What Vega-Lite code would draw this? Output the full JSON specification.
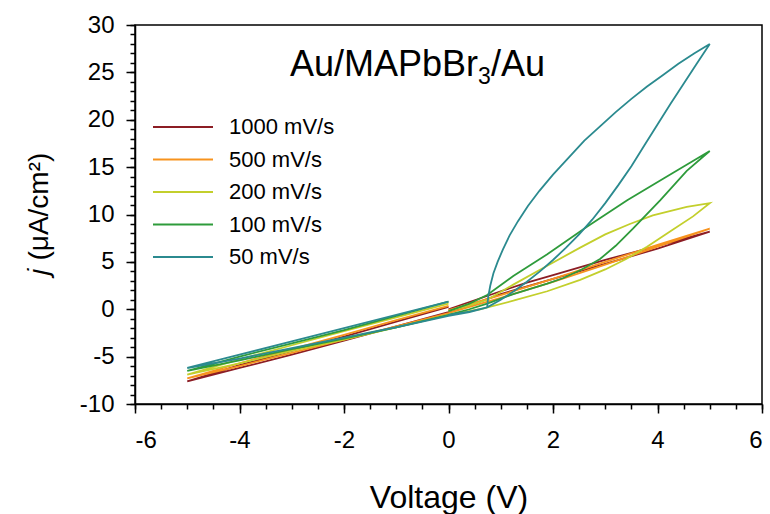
{
  "$schema": "https://vega.github.io/schema/vega-lite/v6.json",
  "width": 627,
  "height": 379,
  "autosize": {"type": "none"},
  "padding": {"left": 135, "top": 25, "right": 8, "bottom": 110},
  "background": "white",
  "config": {
    "font": "Liberation Sans",
    "view": {"stroke": "black", "strokeWidth": 1.5},
    "axis": {
      "grid": false,
      "domainColor": "black",
      "domainWidth": 1.5,
      "tickColor": "black",
      "tickWidth": 1.5,
      "labelColor": "black",
      "labelFont": "Liberation Sans",
      "titleFont": "Liberation Sans",
      "titleColor": "black",
      "titleFontWeight": "normal"
    }
  },
  "datasets": {
    "iv": [
      {"rate": "1000 mV/s", "step": 1, "voltage": 0, "current": 0.0},
      {"rate": "1000 mV/s", "step": 2, "voltage": 0.5, "current": 0.95},
      {"rate": "1000 mV/s", "step": 3, "voltage": 1, "current": 1.9},
      {"rate": "1000 mV/s", "step": 4, "voltage": 1.5, "current": 2.8},
      {"rate": "1000 mV/s", "step": 5, "voltage": 2, "current": 3.6},
      {"rate": "1000 mV/s", "step": 6, "voltage": 3, "current": 5.2},
      {"rate": "1000 mV/s", "step": 7, "voltage": 4, "current": 6.7},
      {"rate": "1000 mV/s", "step": 8, "voltage": 5, "current": 8.2},
      {"rate": "1000 mV/s", "step": 9, "voltage": 4, "current": 6.4},
      {"rate": "1000 mV/s", "step": 10, "voltage": 3, "current": 4.8},
      {"rate": "1000 mV/s", "step": 11, "voltage": 2, "current": 3.2},
      {"rate": "1000 mV/s", "step": 12, "voltage": 1, "current": 1.6},
      {"rate": "1000 mV/s", "step": 13, "voltage": 0.5, "current": 0.6},
      {"rate": "1000 mV/s", "step": 14, "voltage": 0, "current": -0.3},
      {"rate": "1000 mV/s", "step": 15, "voltage": -1, "current": -1.8},
      {"rate": "1000 mV/s", "step": 16, "voltage": -2, "current": -3.3},
      {"rate": "1000 mV/s", "step": 17, "voltage": -3, "current": -4.8},
      {"rate": "1000 mV/s", "step": 18, "voltage": -4, "current": -6.2},
      {"rate": "1000 mV/s", "step": 19, "voltage": -5, "current": -7.6},
      {"rate": "1000 mV/s", "step": 20, "voltage": -4, "current": -5.9},
      {"rate": "1000 mV/s", "step": 21, "voltage": -3, "current": -4.4},
      {"rate": "1000 mV/s", "step": 22, "voltage": -2, "current": -2.9},
      {"rate": "1000 mV/s", "step": 23, "voltage": -1, "current": -1.3},
      {"rate": "1000 mV/s", "step": 24, "voltage": 0, "current": 0.25},

      {"rate": "500 mV/s", "step": 1, "voltage": 0, "current": -0.1},
      {"rate": "500 mV/s", "step": 2, "voltage": 0.5, "current": 0.7},
      {"rate": "500 mV/s", "step": 3, "voltage": 1, "current": 1.5},
      {"rate": "500 mV/s", "step": 4, "voltage": 2, "current": 3.2},
      {"rate": "500 mV/s", "step": 5, "voltage": 3, "current": 5.0},
      {"rate": "500 mV/s", "step": 6, "voltage": 4, "current": 6.8},
      {"rate": "500 mV/s", "step": 7, "voltage": 5, "current": 8.5},
      {"rate": "500 mV/s", "step": 8, "voltage": 4, "current": 6.6},
      {"rate": "500 mV/s", "step": 9, "voltage": 3, "current": 4.7},
      {"rate": "500 mV/s", "step": 10, "voltage": 2, "current": 2.9},
      {"rate": "500 mV/s", "step": 11, "voltage": 1, "current": 1.2},
      {"rate": "500 mV/s", "step": 12, "voltage": 0.5, "current": 0.4},
      {"rate": "500 mV/s", "step": 13, "voltage": 0, "current": -0.4},
      {"rate": "500 mV/s", "step": 14, "voltage": -1, "current": -1.8},
      {"rate": "500 mV/s", "step": 15, "voltage": -2, "current": -3.2},
      {"rate": "500 mV/s", "step": 16, "voltage": -3, "current": -4.6},
      {"rate": "500 mV/s", "step": 17, "voltage": -4, "current": -6.0},
      {"rate": "500 mV/s", "step": 18, "voltage": -5, "current": -7.3},
      {"rate": "500 mV/s", "step": 19, "voltage": -4, "current": -5.7},
      {"rate": "500 mV/s", "step": 20, "voltage": -3, "current": -4.2},
      {"rate": "500 mV/s", "step": 21, "voltage": -2, "current": -2.7},
      {"rate": "500 mV/s", "step": 22, "voltage": -1, "current": -1.15},
      {"rate": "500 mV/s", "step": 23, "voltage": 0, "current": 0.35},

      {"rate": "200 mV/s", "step": 1, "voltage": 0, "current": -0.2},
      {"rate": "200 mV/s", "step": 2, "voltage": 0.4, "current": 0.4},
      {"rate": "200 mV/s", "step": 3, "voltage": 0.74, "current": 1.0},
      {"rate": "200 mV/s", "step": 4, "voltage": 1.24, "current": 2.6},
      {"rate": "200 mV/s", "step": 5, "voltage": 1.89, "current": 4.6},
      {"rate": "200 mV/s", "step": 6, "voltage": 2.52, "current": 6.5},
      {"rate": "200 mV/s", "step": 7, "voltage": 3.0, "current": 7.9},
      {"rate": "200 mV/s", "step": 8, "voltage": 3.47, "current": 9.0},
      {"rate": "200 mV/s", "step": 9, "voltage": 3.91, "current": 9.9},
      {"rate": "200 mV/s", "step": 10, "voltage": 4.56, "current": 10.8},
      {"rate": "200 mV/s", "step": 11, "voltage": 5, "current": 11.2},
      {"rate": "200 mV/s", "step": 12, "voltage": 4.68, "current": 9.8},
      {"rate": "200 mV/s", "step": 13, "voltage": 4.24, "current": 8.2},
      {"rate": "200 mV/s", "step": 14, "voltage": 3.8, "current": 6.6},
      {"rate": "200 mV/s", "step": 15, "voltage": 3.4, "current": 5.3},
      {"rate": "200 mV/s", "step": 16, "voltage": 3.0, "current": 4.2},
      {"rate": "200 mV/s", "step": 17, "voltage": 2.52, "current": 3.1},
      {"rate": "200 mV/s", "step": 18, "voltage": 1.89, "current": 1.9},
      {"rate": "200 mV/s", "step": 19, "voltage": 1.24, "current": 0.9},
      {"rate": "200 mV/s", "step": 20, "voltage": 0.6, "current": 0.0},
      {"rate": "200 mV/s", "step": 21, "voltage": 0, "current": -0.6},
      {"rate": "200 mV/s", "step": 22, "voltage": -1, "current": -1.9},
      {"rate": "200 mV/s", "step": 23, "voltage": -2, "current": -3.2},
      {"rate": "200 mV/s", "step": 24, "voltage": -3, "current": -4.4},
      {"rate": "200 mV/s", "step": 25, "voltage": -4, "current": -5.7},
      {"rate": "200 mV/s", "step": 26, "voltage": -5, "current": -6.9},
      {"rate": "200 mV/s", "step": 27, "voltage": -4, "current": -5.3},
      {"rate": "200 mV/s", "step": 28, "voltage": -3, "current": -3.8},
      {"rate": "200 mV/s", "step": 29, "voltage": -2, "current": -2.3},
      {"rate": "200 mV/s", "step": 30, "voltage": -1, "current": -0.85},
      {"rate": "200 mV/s", "step": 31, "voltage": 0, "current": 0.6},

      {"rate": "100 mV/s", "step": 1, "voltage": 0, "current": -0.2},
      {"rate": "100 mV/s", "step": 2, "voltage": 0.4, "current": 0.6},
      {"rate": "100 mV/s", "step": 3, "voltage": 0.74, "current": 1.5},
      {"rate": "100 mV/s", "step": 4, "voltage": 1.24, "current": 3.5},
      {"rate": "100 mV/s", "step": 5, "voltage": 1.89, "current": 5.8},
      {"rate": "100 mV/s", "step": 6, "voltage": 2.65, "current": 8.7},
      {"rate": "100 mV/s", "step": 7, "voltage": 3.42, "current": 11.5},
      {"rate": "100 mV/s", "step": 8, "voltage": 4.18, "current": 14.0},
      {"rate": "100 mV/s", "step": 9, "voltage": 5, "current": 16.7},
      {"rate": "100 mV/s", "step": 10, "voltage": 4.56, "current": 14.6},
      {"rate": "100 mV/s", "step": 11, "voltage": 4.05, "current": 11.5},
      {"rate": "100 mV/s", "step": 12, "voltage": 3.53, "current": 8.5},
      {"rate": "100 mV/s", "step": 13, "voltage": 3.2, "current": 6.7},
      {"rate": "100 mV/s", "step": 14, "voltage": 2.9, "current": 5.3},
      {"rate": "100 mV/s", "step": 15, "voltage": 2.55, "current": 4.2},
      {"rate": "100 mV/s", "step": 16, "voltage": 2.2, "current": 3.3},
      {"rate": "100 mV/s", "step": 17, "voltage": 1.89, "current": 2.7},
      {"rate": "100 mV/s", "step": 18, "voltage": 1.24, "current": 1.6},
      {"rate": "100 mV/s", "step": 19, "voltage": 0.74, "current": 0.6},
      {"rate": "100 mV/s", "step": 20, "voltage": 0.4, "current": 0.0},
      {"rate": "100 mV/s", "step": 21, "voltage": 0, "current": -0.6},
      {"rate": "100 mV/s", "step": 22, "voltage": -1, "current": -1.9},
      {"rate": "100 mV/s", "step": 23, "voltage": -2, "current": -3.1},
      {"rate": "100 mV/s", "step": 24, "voltage": -3, "current": -4.2},
      {"rate": "100 mV/s", "step": 25, "voltage": -4, "current": -5.4},
      {"rate": "100 mV/s", "step": 26, "voltage": -5, "current": -6.5},
      {"rate": "100 mV/s", "step": 27, "voltage": -4, "current": -5.0},
      {"rate": "100 mV/s", "step": 28, "voltage": -3, "current": -3.6},
      {"rate": "100 mV/s", "step": 29, "voltage": -2, "current": -2.2},
      {"rate": "100 mV/s", "step": 30, "voltage": -1, "current": -0.7},
      {"rate": "100 mV/s", "step": 31, "voltage": 0, "current": 0.8},

      {"rate": "50 mV/s", "step": 1, "voltage": 0, "current": -0.6},
      {"rate": "50 mV/s", "step": 2, "voltage": 0.4, "current": -0.25},
      {"rate": "50 mV/s", "step": 3, "voltage": 0.74, "current": 0.2},
      {"rate": "50 mV/s", "step": 4, "voltage": 0.76, "current": 1.3},
      {"rate": "50 mV/s", "step": 5, "voltage": 0.8, "current": 2.5},
      {"rate": "50 mV/s", "step": 6, "voltage": 0.86, "current": 3.8},
      {"rate": "50 mV/s", "step": 7, "voltage": 0.94, "current": 5.0},
      {"rate": "50 mV/s", "step": 8, "voltage": 1.04, "current": 6.3},
      {"rate": "50 mV/s", "step": 9, "voltage": 1.17, "current": 7.8},
      {"rate": "50 mV/s", "step": 10, "voltage": 1.33, "current": 9.3},
      {"rate": "50 mV/s", "step": 11, "voltage": 1.52, "current": 10.9},
      {"rate": "50 mV/s", "step": 12, "voltage": 1.74, "current": 12.5},
      {"rate": "50 mV/s", "step": 13, "voltage": 2.0, "current": 14.2},
      {"rate": "50 mV/s", "step": 14, "voltage": 2.3, "current": 16.0},
      {"rate": "50 mV/s", "step": 15, "voltage": 2.6, "current": 17.8},
      {"rate": "50 mV/s", "step": 16, "voltage": 2.9, "current": 19.3},
      {"rate": "50 mV/s", "step": 17, "voltage": 3.2, "current": 20.8},
      {"rate": "50 mV/s", "step": 18, "voltage": 3.5, "current": 22.2},
      {"rate": "50 mV/s", "step": 19, "voltage": 3.8, "current": 23.5},
      {"rate": "50 mV/s", "step": 20, "voltage": 4.1, "current": 24.7},
      {"rate": "50 mV/s", "step": 21, "voltage": 4.4, "current": 25.9},
      {"rate": "50 mV/s", "step": 22, "voltage": 4.7, "current": 27.0},
      {"rate": "50 mV/s", "step": 23, "voltage": 5, "current": 28.0},
      {"rate": "50 mV/s", "step": 24, "voltage": 4.75, "current": 25.9},
      {"rate": "50 mV/s", "step": 25, "voltage": 4.5, "current": 23.8},
      {"rate": "50 mV/s", "step": 26, "voltage": 4.25, "current": 21.7},
      {"rate": "50 mV/s", "step": 27, "voltage": 4.0, "current": 19.5},
      {"rate": "50 mV/s", "step": 28, "voltage": 3.75, "current": 17.3},
      {"rate": "50 mV/s", "step": 29, "voltage": 3.5, "current": 15.1},
      {"rate": "50 mV/s", "step": 30, "voltage": 3.25, "current": 13.1},
      {"rate": "50 mV/s", "step": 31, "voltage": 3.0, "current": 11.2},
      {"rate": "50 mV/s", "step": 32, "voltage": 2.75, "current": 9.45},
      {"rate": "50 mV/s", "step": 33, "voltage": 2.5, "current": 7.9},
      {"rate": "50 mV/s", "step": 34, "voltage": 2.25, "current": 6.5},
      {"rate": "50 mV/s", "step": 35, "voltage": 2.0, "current": 5.2},
      {"rate": "50 mV/s", "step": 36, "voltage": 1.75, "current": 4.0},
      {"rate": "50 mV/s", "step": 37, "voltage": 1.5, "current": 2.9},
      {"rate": "50 mV/s", "step": 38, "voltage": 1.25, "current": 1.9},
      {"rate": "50 mV/s", "step": 39, "voltage": 1.0, "current": 1.0},
      {"rate": "50 mV/s", "step": 40, "voltage": 0.74, "current": 0.2},
      {"rate": "50 mV/s", "step": 41, "voltage": 0.4, "current": -0.3},
      {"rate": "50 mV/s", "step": 42, "voltage": 0, "current": -0.7},
      {"rate": "50 mV/s", "step": 43, "voltage": -1, "current": -1.9},
      {"rate": "50 mV/s", "step": 44, "voltage": -2, "current": -3.0},
      {"rate": "50 mV/s", "step": 45, "voltage": -3, "current": -4.1},
      {"rate": "50 mV/s", "step": 46, "voltage": -4, "current": -5.2},
      {"rate": "50 mV/s", "step": 47, "voltage": -5, "current": -6.2},
      {"rate": "50 mV/s", "step": 48, "voltage": -4, "current": -4.8},
      {"rate": "50 mV/s", "step": 49, "voltage": -3, "current": -3.4},
      {"rate": "50 mV/s", "step": 50, "voltage": -2, "current": -2.0},
      {"rate": "50 mV/s", "step": 51, "voltage": -1, "current": -0.6},
      {"rate": "50 mV/s", "step": 52, "voltage": 0, "current": 0.8}
    ],
    "label": [{"part": "main", "voltage": 0.565, "current": 24.6}]
  },
  "resolve": {"axis": {"x": "independent", "y": "independent"}},
  "layer": [
    {
      "data": {"name": "iv"},
      "mark": {"type": "point", "opacity": 0},
      "encoding": {
        "x": {
          "field": "voltage", "type": "quantitative",
          "scale": {"domain": [-6, 6], "nice": false},
          "axis": {"orient": "bottom", "values": [-6,-5.5,-5,-4.5,-4,-3.5,-3,-2.5,-2,-1.5,-1,-0.5,0,0.5,1,1.5,2,2.5,3,3.5,4,4.5,5,5.5,6], "labels": false, "domain": false, "tickSize": 5, "title": null}
        },
        "y": {
          "field": "current", "type": "quantitative",
          "scale": {"domain": [-10, 30], "nice": false},
          "axis": {"orient": "left", "values": [-10,-9,-8,-7,-6,-5,-4,-3,-2,-1,0,1,2,3,4,5,6,7,8,9,10,11,12,13,14,15,16,17,18,19,20,21,22,23,24,25,26,27,28,29,30], "labels": false, "domain": false, "tickSize": 5, "title": null}
        }
      }
    },
    {
      "mark": {"type": "rule", "color": "black", "strokeWidth": 1.5},
      "encoding": {
        "y": {"datum": 0, "type": "quantitative", "axis": null}
      }
    },
    {
      "data": {"name": "iv"},
      "mark": {"type": "line", "strokeWidth": 1.8, "interpolate": "linear"},
      "encoding": {
        "x": {
          "field": "voltage", "type": "quantitative",
          "axis": {"orient": "bottom", "values": [-6,-4,-2,0,2,4,6], "tickSize": 9, "labelFontSize": 24, "labelPadding": 15, "labelExpr": "replace(datum.label, '−', '-')", "title": "Voltage (V)", "titleFontSize": 32, "titlePadding": 30}
        },
        "y": {
          "field": "current", "type": "quantitative",
          "axis": {"orient": "left", "values": [-10,-5,0,5,10,15,20,25,30], "tickSize": 9, "labelFontSize": 24, "labelPadding": 12, "labelExpr": "replace(datum.label, '−', '-')", "title": "𝑗 (μA/cm²)", "titleFontSize": 28, "titlePadding": 26}
        },
        "color": {
          "field": "rate", "type": "nominal",
          "scale": {"domain": ["1000 mV/s", "500 mV/s", "200 mV/s", "100 mV/s", "50 mV/s"], "range": ["#8c1d24", "#f7931e", "#c3cf2c", "#2e9b3b", "#2b8a8f"]},
          "legend": {"orient": "none", "legendX": 37, "legendY": 91, "title": null, "symbolType": "M-3,0H3", "symbolSize": 400, "symbolStrokeWidth": 1.8, "labelFontSize": 22, "labelFont": "Liberation Sans", "labelColor": "black", "labelOffset": 35, "rowPadding": 10.5, "padding": 0}
        },
        "order": {"field": "step", "type": "quantitative"}
      }
    },
    {
      "data": {"name": "label"},
      "mark": {"type": "text", "fontSize": 36, "align": "right", "baseline": "alphabetic", "color": "black"},
      "encoding": {
        "x": {"field": "voltage", "type": "quantitative", "axis": null},
        "y": {"field": "current", "type": "quantitative", "axis": null},
        "text": {"value": "Au/MAPbBr"}
      }
    },
    {
      "data": {"name": "label"},
      "mark": {"type": "text", "fontSize": 23, "align": "left", "baseline": "alphabetic", "color": "black", "dy": 8},
      "encoding": {
        "x": {"field": "voltage", "type": "quantitative", "axis": null},
        "y": {"field": "current", "type": "quantitative", "axis": null},
        "text": {"value": "3"}
      }
    },
    {
      "data": {"name": "label"},
      "mark": {"type": "text", "fontSize": 36, "align": "left", "baseline": "alphabetic", "color": "black", "dx": 13},
      "encoding": {
        "x": {"field": "voltage", "type": "quantitative", "axis": null},
        "y": {"field": "current", "type": "quantitative", "axis": null},
        "text": {"value": "/Au"}
      }
    }
  ]
}
